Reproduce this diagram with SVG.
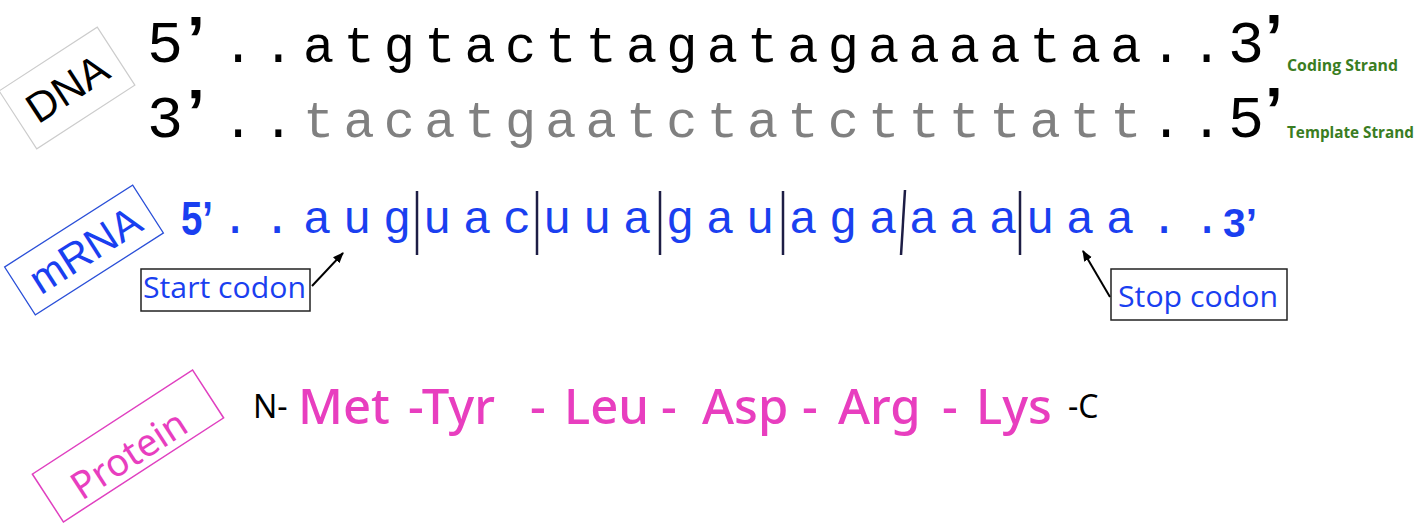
<svg xmlns="http://www.w3.org/2000/svg" width="1418" height="532" viewBox="0 0 1418 532">
<defs>
<marker id="ah" viewBox="0 0 10 10" refX="9" refY="5" markerWidth="11" markerHeight="11" markerUnits="userSpaceOnUse" orient="auto"><path d="M0,1 L10,5 L0,9 z" fill="#000"/></marker>
<style>
.mono{font-family:"Liberation Mono","DejaVu Sans Mono",monospace}
.sans{font-family:"Liberation Sans",Arial,sans-serif}
.q{font-family:"Liberation Sans",Arial,sans-serif;font-weight:bold}
.lbl{font-family:"Open Sans","Noto Sans",sans-serif}
.strand{font-family:"Open Sans","Noto Sans",sans-serif;font-weight:bold;font-size:16px;fill:#3a7d22}
.blue{fill:#1a3ff0}
.pink{fill:#e83ebf}
.prot{font-family:"Noto Sans","Open Sans",sans-serif;font-weight:normal}
.aa{font-family:"Noto Sans","Open Sans",sans-serif;font-weight:500}
.box{fill:#fff;stroke:#222;stroke-width:1.5}
.conn{stroke:#000;stroke-width:2;fill:none}
.sep{stroke:#1d1d45;stroke-width:2.5}
</style>
</defs>
<rect width="1418" height="532" fill="#fff"/>

<g id="dna-label" transform="translate(67,88) rotate(-33)">
<rect x="-58.5" y="-34.5" width="117" height="69" fill="none" stroke="#cccccc" stroke-width="1.2"/>
<text x="0" y="15" text-anchor="middle" class="sans" font-size="42" fill="#000">DNA</text>
</g>

<g id="coding-strand">
<text class="mono" font-size="60" x="147" y="62" fill="#000">5</text>
<text class="q" font-size="64" x="187" y="62" fill="#000">’</text>
<text class="mono" font-size="52" letter-spacing="9.15" x="222.4" y="62" fill="#000">..atgtacttagatagaaaataa..</text>
<text class="mono" font-size="60" x="1228" y="62" fill="#000">3</text>
<text class="q" font-size="64" x="1265" y="60" fill="#000">’</text>
<text class="strand" x="1287" y="71" textLength="111" lengthAdjust="spacingAndGlyphs">Coding Strand</text>
</g>

<g id="template-strand">
<text class="mono" font-size="60" x="147" y="137" fill="#000">3</text>
<text class="q" font-size="64" x="187" y="135" fill="#000">’</text>
<text class="mono" font-size="52" letter-spacing="9.15" x="222.4" y="137" fill="#000">..<tspan fill="#808080">tacatgaatctatcttttatt</tspan>..</text>
<text class="mono" font-size="60" x="1228" y="137" fill="#000">5</text>
<text class="q" font-size="64" x="1265" y="133" fill="#000">’</text>
<text class="strand" x="1287" y="138" textLength="127" lengthAdjust="spacingAndGlyphs">Template Strand</text>
</g>

<g id="mrna-label" transform="translate(84,250) rotate(-32.6)">
<rect x="-76" y="-28.5" width="152" height="57" fill="none" stroke="#2a4fd8" stroke-width="1.3"/>
<text x="1" y="15" text-anchor="middle" class="sans blue" font-size="42">mRNA</text>
</g>

<g id="mrna">
<text class="q blue" font-size="48" x="181" y="235" textLength="32" lengthAdjust="spacingAndGlyphs">5’</text>
<text class="mono blue" font-size="47" text-anchor="middle" y="233" x="235 277 317 357 397 437 477 517 557 597 637 680 720 760 803 843 883 923 963 1003 1040 1080 1120 1164 1207">..auguacuuagauagaaaauaa..</text>
<text class="q blue" font-size="41" x="1223" y="237" textLength="34" lengthAdjust="spacingAndGlyphs">3’</text>
<g id="codon-separators" class="sep">
<line x1="417" y1="191" x2="417" y2="255"/>
<line x1="537" y1="191" x2="537" y2="255"/>
<line x1="660" y1="191" x2="660" y2="255"/>
<line x1="783" y1="191" x2="783" y2="255"/>
<line x1="905" y1="190" x2="901" y2="255"/>
<line x1="1020" y1="191" x2="1020" y2="255"/>
</g>
</g>

<g id="start-codon">
<rect class="box" x="141" y="269" width="169" height="42"/>
<text class="lbl blue" font-size="29" x="143" y="298" textLength="163" lengthAdjust="spacingAndGlyphs">Start codon</text>
</g>

<g id="stop-codon">
<rect class="box" x="1111" y="269" width="176" height="51"/>
<text class="lbl blue" font-size="29" x="1118" y="307" textLength="160" lengthAdjust="spacingAndGlyphs">Stop codon</text>
</g>

<g id="connectors">
<line class="conn" x1="312" y1="286" x2="343" y2="253" marker-end="url(#ah)"/>
<line class="conn" x1="1110" y1="297" x2="1083" y2="251" marker-end="url(#ah)"/>
</g>

<g id="protein-label" transform="translate(128,446) rotate(-33)">
<rect x="-95.5" y="-28.5" width="191" height="57" fill="none" stroke="#e040c0" stroke-width="1.5"/>
<text x="-4" y="21" text-anchor="middle" class="prot pink" font-size="38">Protein</text>
</g>

<g id="protein">
<text class="prot" font-size="32" x="253" y="418" fill="#000">N-</text>
<text class="aa pink" font-size="49" y="424"><tspan x="298">Met </tspan><tspan x="408">-Tyr </tspan><tspan x="530">- </tspan><tspan x="564">Leu </tspan><tspan x="661">- </tspan><tspan x="702">Asp </tspan><tspan x="802">- </tspan><tspan x="838">Arg </tspan><tspan x="942">- </tspan><tspan x="976">Lys</tspan></text>
<text class="prot" font-size="32" x="1068" y="418" fill="#000">-C</text>
</g>
</svg>
